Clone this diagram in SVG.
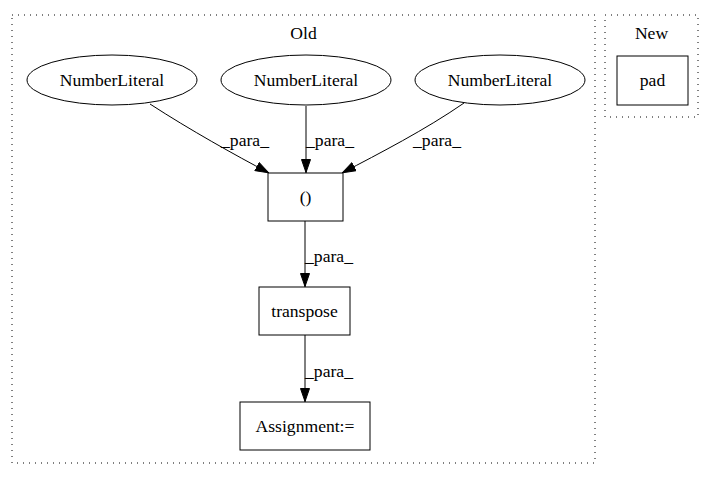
<svg xmlns="http://www.w3.org/2000/svg" width="715" height="480" viewBox="0 0 715 480">
<defs>
<marker id="arr" markerWidth="14" markerHeight="10" refX="14" refY="5" orient="auto" markerUnits="userSpaceOnUse">
<path d="M0.5,0.5 L13.5,5 L0.5,9.5 Z" fill="#000" stroke="#000"/>
</marker>
</defs>
<style>
text{font-family:"Liberation Serif","Times New Roman",serif;font-size:17.6px;fill:#000}
.c{fill:none;stroke:#000;stroke-dasharray:1,5;stroke-width:1}
.n{fill:#fff;stroke:#000;stroke-width:1}
.e{fill:none;stroke:#000;stroke-width:1;marker-end:url(#arr)}
</style>
<rect width="715" height="480" fill="#fff"/>
<g id="cluster_old">
<rect class="c" x="12" y="15" width="583" height="448"/>
<text x="303.5" y="39" text-anchor="middle">Old</text>
</g>
<g id="cluster_new">
<rect class="c" x="605" y="15" width="93" height="102"/>
<text x="651.5" y="39" text-anchor="middle">New</text>
</g>
<g id="connectors">
<path class="e" d="M150,104 C190,130 235,155 269,173"/>
<text x="245" y="146" text-anchor="middle">_para_</text>
<path class="e" d="M306,106 L306,173"/>
<text x="330" y="146" text-anchor="middle">_para_</text>
<path class="e" d="M464,103 C425,130 380,153 342,173"/>
<text x="437" y="146" text-anchor="middle">_para_</text>
<path class="e" d="M305,221 L305,287"/>
<text x="329" y="262" text-anchor="middle">_para_</text>
<path class="e" d="M305,335 L305,402"/>
<text x="329" y="377" text-anchor="middle">_para_</text>
</g>
<g id="nl1"><ellipse class="n" cx="112" cy="80" rx="85" ry="25"/><text x="112" y="86" text-anchor="middle">NumberLiteral</text></g>
<g id="nl2"><ellipse class="n" cx="306" cy="80" rx="85" ry="25"/><text x="306" y="86" text-anchor="middle">NumberLiteral</text></g>
<g id="nl3"><ellipse class="n" cx="500" cy="80" rx="85" ry="25"/><text x="500" y="86" text-anchor="middle">NumberLiteral</text></g>
<g id="tuple"><rect class="n" x="268" y="173" width="75" height="48"/><text x="305.5" y="203" text-anchor="middle">()</text></g>
<g id="transpose"><rect class="n" x="259" y="287" width="91" height="48"/><text x="304.5" y="317" text-anchor="middle">transpose</text></g>
<g id="assignment"><rect class="n" x="240" y="402" width="130" height="48"/><text x="305" y="432" text-anchor="middle">Assignment:=</text></g>
<g id="pad"><rect class="n" x="617" y="56" width="71" height="49"/><text x="652.5" y="86" text-anchor="middle">pad</text></g>
</svg>
